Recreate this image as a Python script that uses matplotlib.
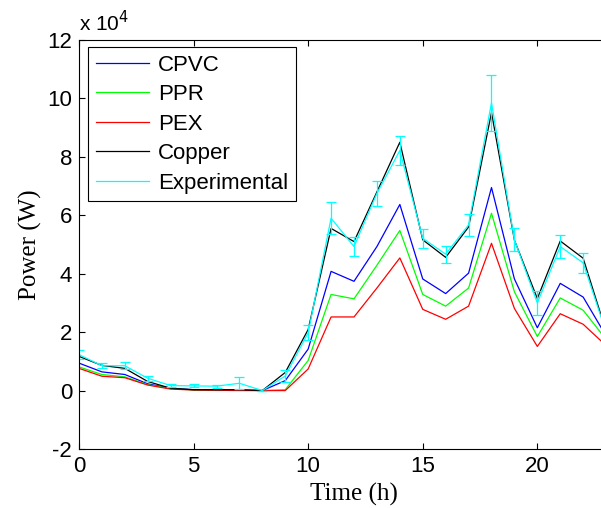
import numpy as np
import matplotlib
matplotlib.use("Agg")
import matplotlib.pyplot as plt
from matplotlib.lines import Line2D

plt.rcParams['axes.unicode_minus'] = False

# hourly power, in units of 1e4 W
hours = np.arange(24)
cpvc = [0.94, 0.64, 0.55, 0.23, 0.08, 0.03, 0.03, 0.02, 0.0, 0.34, 1.42, 4.08, 3.74, 4.93, 6.37, 3.82, 3.32, 4.02, 6.95, 3.82, 2.15, 3.67, 3.2, 1.87]
ppr = [0.81, 0.55, 0.47, 0.2, 0.07, 0.02, 0.02, 0.01, 0.0, 0.03, 1.03, 3.29, 3.14, 4.29, 5.48, 3.29, 2.89, 3.51, 6.07, 3.38, 1.85, 3.17, 2.75, 1.75]
pex = [0.76, 0.49, 0.44, 0.19, 0.05, 0.02, 0.01, 0.0, 0.0, 0.0, 0.74, 2.52, 2.52, 3.51, 4.54, 2.78, 2.44, 2.89, 5.04, 2.81, 1.51, 2.63, 2.27, 1.54]
copper = [1.17, 0.86, 0.76, 0.31, 0.08, 0.03, 0.03, 0.03, 0.0, 0.62, 2.09, 5.55, 5.1, 6.8, 8.5, 5.16, 4.56, 5.6, 9.52, 5.15, 3.15, 5.12, 4.53, 2.03]
experimental = [1.23, 0.85, 0.85, 0.42, 0.17, 0.16, 0.15, 0.25, 0.0, 0.5, 1.98, 5.9, 4.93, 6.75, 8.22, 5.21, 4.67, 5.67, 9.85, 5.16, 3.0, 4.93, 4.37, 2.0]
exp_err = [0.15, 0.08, 0.12, 0.08, 0.05, 0.05, 0.05, 0.2, 0.0, 0.21, 0.25, 0.55, 0.32, 0.42, 0.5, 0.32, 0.29, 0.37, 0.95, 0.39, 0.4, 0.39, 0.35, 0.3]

names = ['CPVC', 'PPR', 'PEX', 'Copper', 'Experimental']
colors = ['blue', (0, 1, 0), 'red', 'black', 'cyan']

fig = plt.figure(figsize=(6.01, 5.08), dpi=100)
# axes runs past the right edge of the picture, as in the original crop
ax = fig.add_axes([79/601, 59/508, 550/601, 409/508])

lw = 0.9
for vals, c in zip([cpvc, ppr, pex, copper], colors[:4]):
    ax.plot(hours, vals, color=c, lw=lw)
ax.errorbar(hours, experimental, yerr=exp_err, color='cyan', lw=lw,
            elinewidth=lw, capsize=3.4, capthick=lw)

ax.set_xlim(0, 24)
ax.set_ylim(-2, 12)
ax.set_xticks([0, 5, 10, 15, 20])
ax.set_yticks(range(-2, 13, 2))
ax.tick_params(direction='in', length=4, width=0.8, top=True, right=True,
               labelsize=16, pad=5)
for lab in ax.get_xticklabels() + ax.get_yticklabels():
    lab.set_family('Liberation Sans')
for sp in ax.spines.values():
    sp.set_linewidth(0.8)

ax.set_xlabel('Time (h)', family='Liberation Serif', fontsize=18, labelpad=4)
ax.set_ylabel('Power (W)', family='Liberation Serif', fontsize=18, labelpad=4)
ax.text(0.0, 1.012, r'x 10$^4$', transform=ax.transAxes, fontsize=15,
        family='Liberation Sans', ha='left', va='bottom')

# legend shows plain lines only
handles = [Line2D([], [], color=c, lw=lw) for c in colors]
leg = ax.legend(handles, names, loc='upper left', bbox_to_anchor=(0.016, 0.983),
                prop={'family': 'Liberation Sans', 'size': 16},
                fancybox=False, edgecolor='black', framealpha=1,
                handlelength=2.4, handletextpad=0.4, labelspacing=0.38,
                borderpad=0.35, borderaxespad=0)
leg.get_frame().set_linewidth(0.8)

fig.savefig('out.png', dpi=100)
